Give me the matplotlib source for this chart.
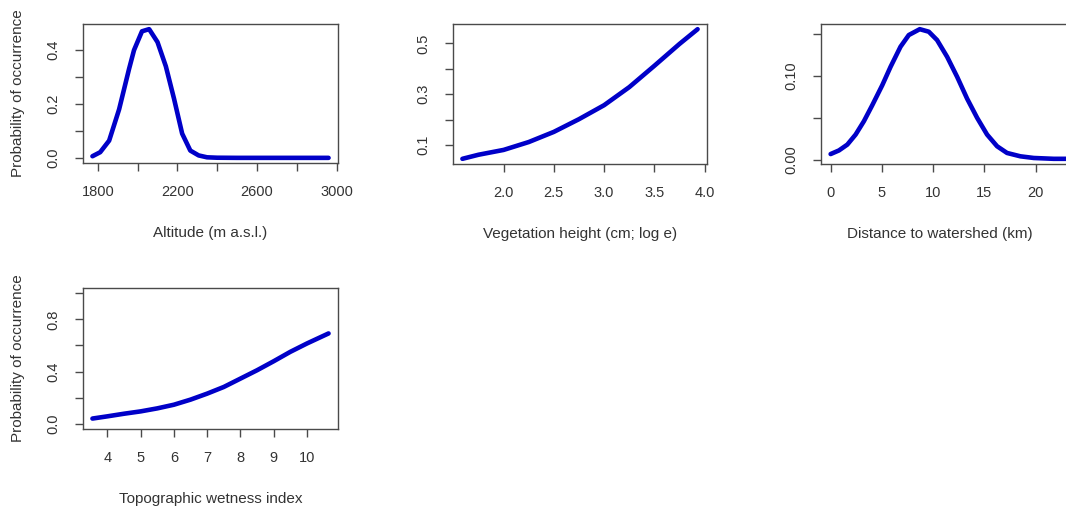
import matplotlib
matplotlib.use("Agg")
import matplotlib.pyplot as plt

plt.rcParams["font.family"] = ["Liberation Sans", "DejaVu Sans"]
plt.rcParams["font.size"] = 10.5

# response curves
alt_x = [1773, 1812, 1857, 1907, 1957, 1982, 2022, 2058, 2100, 2142, 2183, 2224,
         2265, 2307, 2349, 2400, 2500, 2600, 2700, 2800, 2900, 2960]
alt_y = [0.006, 0.021, 0.064, 0.18, 0.33, 0.40, 0.47, 0.478, 0.43, 0.34, 0.22, 0.09,
         0.027, 0.009, 0.002, 0.0005, 0.0, 0.0, 0.0, 0.0, 0.0, 0.0]

veg_x = [1.59, 1.75, 2.0, 2.25, 2.5, 2.75, 3.0, 3.25, 3.5, 3.75, 3.93]
veg_y = [0.046, 0.062, 0.081, 0.112, 0.152, 0.202, 0.257, 0.328, 0.412, 0.498, 0.556]

dist_x = [0.0, 0.81, 1.63, 2.44, 3.25, 4.06, 5.04, 5.85, 6.82, 7.63, 8.7, 9.58,
          10.39, 11.37, 12.35, 13.32, 14.3, 15.27, 16.25, 17.22, 18.52, 19.83,
          21.78, 23.5]
dist_y = [0.0067, 0.011, 0.018, 0.030, 0.046, 0.065, 0.089, 0.111, 0.135, 0.149,
          0.156, 0.153, 0.143, 0.123, 0.099, 0.073, 0.050, 0.030, 0.016, 0.008,
          0.004, 0.002, 0.001, 0.001]

twi_x = [3.55, 4.0, 4.5, 5.0, 5.5, 6.0, 6.5, 7.0, 7.5, 8.0, 8.5, 9.0, 9.5, 10.0, 10.65]
twi_y = [0.040, 0.057, 0.077, 0.095, 0.118, 0.146, 0.185, 0.231, 0.282, 0.346,
         0.41, 0.479, 0.551, 0.615, 0.692]

alt_xticks = [1800, 2000, 2200, 2400, 2600, 2800, 3000]
alt_xlabels = ["1800", "", "2200", "", "2600", "", "3000"]
alt_yticks = [0.0, 0.1, 0.2, 0.3, 0.4]
alt_ylabels = ["0.0", "", "0.2", "", "0.4"]

veg_xticks = [2.0, 2.5, 3.0, 3.5, 4.0]
veg_xlabels = ["2.0", "2.5", "3.0", "3.5", "4.0"]
veg_yticks = [0.1, 0.2, 0.3, 0.4, 0.5]
veg_ylabels = ["0.1", "", "0.3", "", "0.5"]

dist_xticks = [0, 5, 10, 15, 20]
dist_xlabels = ["0", "5", "10", "15", "20"]
dist_yticks = [0.0, 0.05, 0.10, 0.15]
dist_ylabels = ["0.00", "", "0.10", ""]

twi_xticks = [4, 5, 6, 7, 8, 9, 10]
twi_xlabels = ["4", "5", "6", "7", "8", "9", "10"]
twi_yticks = [0.0, 0.2, 0.4, 0.6, 0.8, 1.0]
twi_ylabels = ["0.0", "", "0.4", "", "0.8", ""]

W, H = 1066, 507
fig = plt.figure(figsize=(W / 100, H / 100), dpi=100)
LINE = "#0000c8"
FRAME = "#4a4a4a"
TEXT = "#333333"


def panel(left, top, width, height, x, y, xt, xl, yt, yl, xlabel, ylabel=None, ylim=None):
    ax = fig.add_axes([left / W, 1 - (top + height) / H, width / W, height / H])
    ax.plot(x, y, color=LINE, lw=3.3, solid_joinstyle="round", solid_capstyle="round")
    ax.margins(x=0.04, y=0.04)
    if ylim is not None:
        ax.set_ylim(ylim)
    ax.set_xticks(xt, xl)
    ax.set_yticks(yt, yl)
    ax.tick_params(direction="out", length=6, width=1, color=FRAME, labelcolor=TEXT,
                   labelsize=10.5, pad=10)
    for lab in ax.get_yticklabels():
        lab.set_rotation(90)
        lab.set_va("center")
    for s in ax.spines.values():
        s.set_color(FRAME)
        s.set_linewidth(1)
    ax.set_xlabel(xlabel, color=TEXT, fontsize=11)
    ax.xaxis.set_label_coords(0.5, -70 / height)
    ax.xaxis.label.set_va("center")
    if ylabel:
        ax.set_ylabel(ylabel, color=TEXT, fontsize=11)
        ax.yaxis.set_label_coords(-65 / width, 0.5)
        ax.yaxis.label.set_va("center")
    return ax


panel(83, 24, 255, 139, alt_x, alt_y, alt_xticks, alt_xlabels, alt_yticks, alt_ylabels,
      "Altitude (m a.s.l.)", "Probability of occurrence")
panel(453, 24, 254, 140, veg_x, veg_y, veg_xticks, veg_xlabels, veg_yticks, veg_ylabels,
      "Vegetation height (cm; log e)")
ax3 = panel(821, 24, 260, 140, dist_x, dist_y, dist_xticks, dist_xlabels, dist_yticks,
            dist_ylabels, "Distance to watershed (km)")
ax3.xaxis.set_label_coords(119 / 260, -70 / 140)
panel(83, 288, 255, 141, twi_x, twi_y, twi_xticks, twi_xlabels, twi_yticks, twi_ylabels,
      "Topographic wetness index", "Probability of occurrence", ylim=(-0.04, 1.04))

fig.savefig("out.png", dpi=100)
